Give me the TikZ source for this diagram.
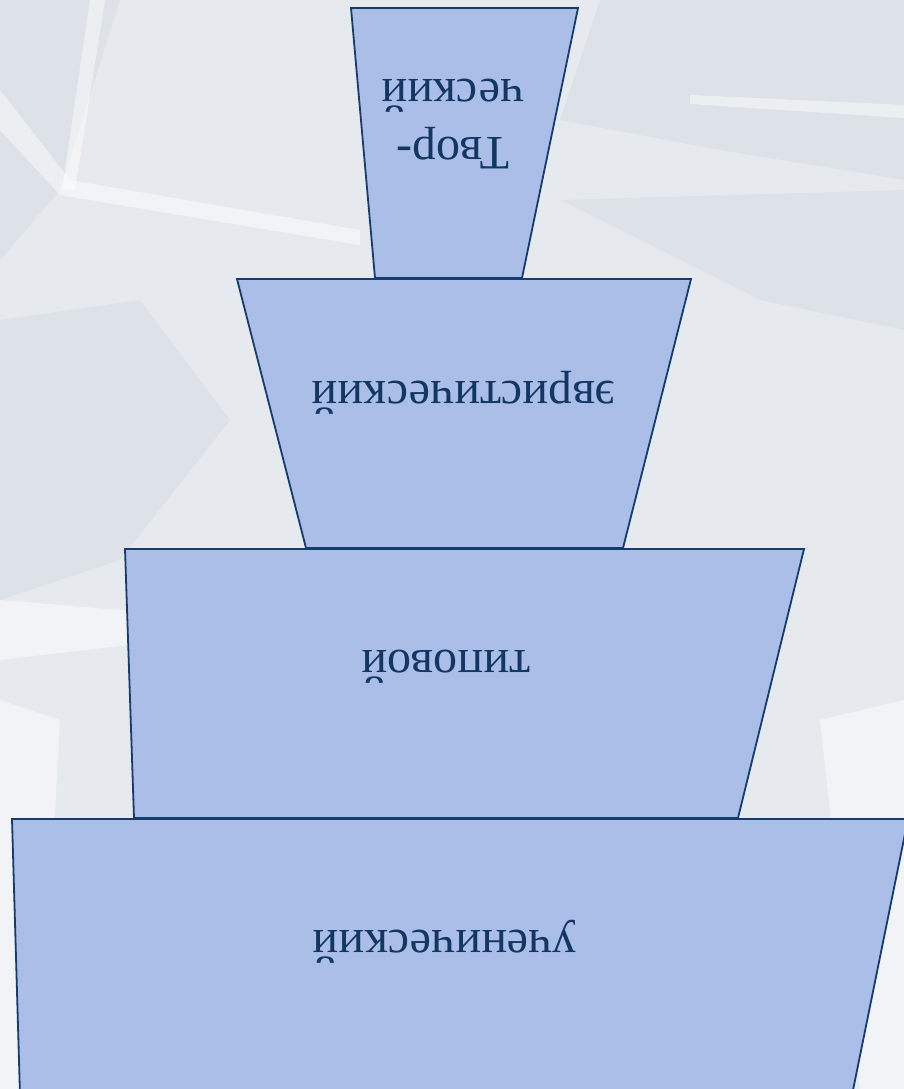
\documentclass[tikz,border=0pt]{standalone}
\usepackage{fontspec}
\setmainfont{Liberation Serif}
\usepackage{xcolor}
\definecolor{icebg}{HTML}{E6EAEF}
\definecolor{iceshade}{HTML}{D8DEE6}
\definecolor{tierfill}{HTML}{AABEE8}
\definecolor{tierline}{HTML}{143C6C}
\definecolor{tiertext}{HTML}{123763}
\usetikzlibrary{positioning, calc}

\begin{document}
\begin{tikzpicture}[
  x=1pt, y=-1pt,
  tier/.style={fill=tierfill, draw=tierline, line width=1.8pt, line join=miter},
  tierlabel/.style={text=tiertext, rotate=180, align=center, font=\fontsize{48}{58}\selectfont},
  icestreak/.style={fill=white, opacity=0.45, draw=none},
  iceshadow/.style={fill=iceshade, opacity=0.6, draw=none}
]
  % background
  \fill[icebg] (0,0) rectangle (904,1089);
  \useasboundingbox (0,0) rectangle (904,1089);
  \fill[iceshadow] (0,0) -- (120,0) -- (60,190) -- (0,260) -- cycle;
  \fill[iceshadow] (600,0) -- (904,0) -- (904,180) -- (720,150) -- (560,120) -- cycle;
  \fill[iceshadow] (560,200) -- (904,190) -- (904,330) -- (760,300) -- cycle;
  \fill[iceshadow] (0,320) -- (140,300) -- (230,420) -- (120,560) -- (0,600) -- cycle;
  \fill[icestreak] (0,90) -- (70,180) -- (360,230) -- (360,245) -- (60,195) -- (0,130) -- cycle;
  \fill[icestreak] (90,0) -- (105,0) -- (75,190) -- (62,190) -- cycle;
  \fill[icestreak] (690,95) -- (904,105) -- (904,118) -- (690,104) -- cycle;
  \fill[icestreak] (0,600) -- (240,620) -- (240,632) -- (0,660) -- cycle;
  \fill[icestreak] (820,720) -- (904,700) -- (904,1089) -- (860,1089) -- cycle;
  \fill[icestreak] (0,700) -- (60,720) -- (40,1089) -- (0,1089) -- cycle;

  % tiers, drawn from top to bottom: #1 top y, #2 bottom y, #3..#6 x at top-left, top-right, bottom-right, bottom-left
  \def\tier#1#2#3#4#5#6{%
    \draw[tier] (#3,#1) -- (#4,#1) -- (#5,#2) -- (#6,#2) -- cycle;
  }
  \tier{8}{278}{351}{578}{522}{375}
  \tier{279}{548}{237}{691}{623}{306}
  \tier{549}{818}{125}{804}{738}{134}
  \tier{819}{1095}{12}{908}{852}{20}

  \node[tierlabel] (creative) at (453,124) {Твор-\\ческий};
  \node[tierlabel] (heuristic) at (464,393) {эвристический};
  \node[tierlabel] (typical) at (446,667) {типовой};
  \node[tierlabel] (student) at (445,942) {ученический};
\end{tikzpicture}
\end{document}
